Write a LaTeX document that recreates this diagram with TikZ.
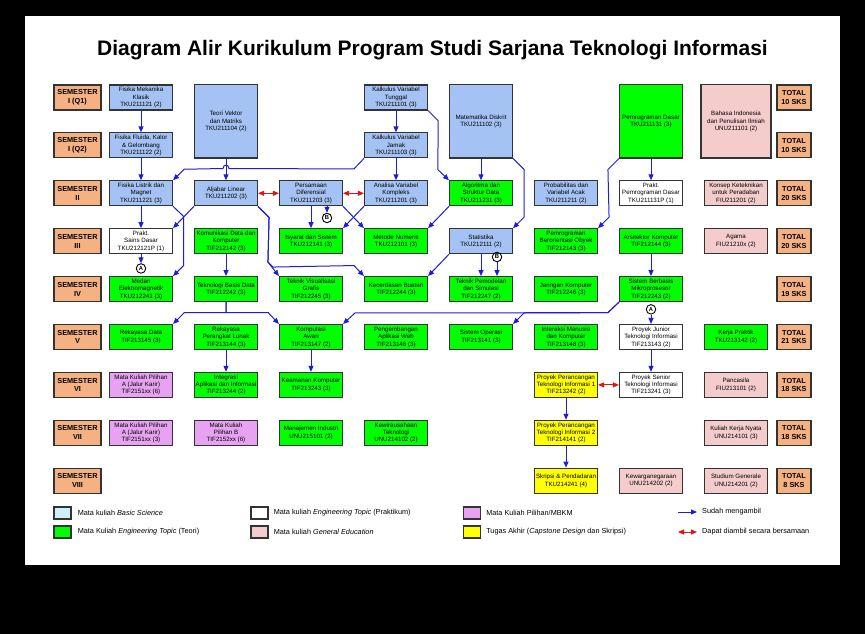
\documentclass[tikz,border=0pt]{standalone}
\usepackage{fontspec}
\setmainfont{Liberation Sans}
\usetikzlibrary{positioning, arrows.meta, calc}
\definecolor{kurblue}{HTML}{A4C2F4}
\definecolor{kurcyan}{HTML}{D0EEF6}
\definecolor{kurgreen}{HTML}{00FF00}
\definecolor{kurpink}{HTML}{F4CCCC}
\definecolor{kurviolet}{HTML}{E8A2F2}
\definecolor{kuryellow}{HTML}{FFFF00}
\definecolor{kurorange}{HTML}{F6B183}
\definecolor{kurborder}{HTML}{333333}
\definecolor{arrblue}{HTML}{1E1ED8}
\definecolor{arrred}{HTML}{E31414}

\begin{document}
\begin{tikzpicture}[
    x=1pt, y=-1pt,
    node distance=21.8pt and 22pt,
    course/.style={
        rectangle, draw=kurborder, line width=1.1pt, minimum width=63pt,
        minimum height=25pt, inner sep=1pt, align=center,
        font=\fontsize{6.2}{7.4}\selectfont
    },
    basic/.style={course, fill=kurblue},
    teori/.style={course, fill=kurgreen},
    prakt/.style={course, fill=white},
    umum/.style={course, fill=kurpink},
    pilihan/.style={course, fill=kurviolet},
    akhir/.style={course, fill=kuryellow},
    tall/.style={minimum height=73pt},
    semester/.style={
        rectangle, draw=kurborder, line width=1.1pt, fill=kurorange,
        minimum width=47pt, minimum height=25pt, inner sep=1pt, align=center,
        font=\fontsize{7.3}{8.8}\selectfont\bfseries
    },
    total/.style={semester, minimum width=34pt},
    marker/.style={circle, draw=black, line width=0.9pt, inner sep=0pt,
        minimum size=9.5pt, font=\fontsize{5.8}{6}\selectfont\bfseries},
    arr/.style={-{Triangle[length=6pt, width=5pt]}, line width=1pt, color=arrblue},
    both/.style={{Triangle[length=6pt, width=5pt]}-{Triangle[length=6pt, width=5pt]},
        line width=1pt, color=arrred},
    legbox/.style={rectangle, draw=kurborder, line width=1.1pt, minimum width=17pt,
        minimum height=12pt, inner sep=0pt},
    legtext/.style={anchor=west, inner sep=0pt, font=\fontsize{7.3}{8.8}\selectfont},
]

% Page
\fill[black] (0,0) rectangle (865,634);
\fill[white] (25,16) rectangle (840,565);
\useasboundingbox (0,0) rectangle (865,634);

\node[font=\fontsize{21}{25}\selectfont\bfseries] (title) at (432.5,50)
    {Diagram Alir Kurikulum Program Studi Sarjana Teknologi Informasi};

% Columns
\coordinate (c1) at (141,0);
\coordinate (c2) at (226,0);
\coordinate (c3) at (311,0);
\coordinate (c4) at (396,0);
\coordinate (c5) at (481,0);
\coordinate (c6) at (566,0);
\coordinate (c7) at (651,0);
\coordinate (c8) at (736,0);
\coordinate (ct) at (794,0);

% Semesters (left column)
\node[semester] (sem1a) at (77.5,97.5) {SEMESTER\\I (Q1)};
\node[semester, below=of sem1a] (sem1b) {SEMESTER\\I (Q2)};
\node[semester, below=of sem1b] (sem2) {SEMESTER\\II};
\node[semester, below=of sem2] (sem3) {SEMESTER\\III};
\node[semester, below=of sem3] (sem4) {SEMESTER\\IV};
\node[semester, below=of sem4] (sem5) {SEMESTER\\V};
\node[semester, below=of sem5] (sem6) {SEMESTER\\VI};
\node[semester, below=of sem6] (sem7) {SEMESTER\\VII};
\node[semester, below=of sem7] (sem8) {SEMESTER\\VIII};

% Totals (right column)
\node[total] (tot1a) at (ct |- sem1a) {TOTAL\\10 SKS};
\node[total] (tot1b) at (ct |- sem1b) {TOTAL\\10 SKS};
\node[total] (tot2) at (ct |- sem2) {TOTAL\\20 SKS};
\node[total] (tot3) at (ct |- sem3) {TOTAL\\20 SKS};
\node[total] (tot4) at (ct |- sem4) {TOTAL\\19 SKS};
\node[total] (tot5) at (ct |- sem5) {TOTAL\\21 SKS};
\node[total] (tot6) at (ct |- sem6) {TOTAL\\18 SKS};
\node[total] (tot7) at (ct |- sem7) {TOTAL\\18 SKS};
\node[total] (tot8) at (ct |- sem8) {TOTAL\\8 SKS};

% Semester I
\node[basic] (fmk) at (c1 |- sem1a) {Fisika Mekanika\\Klasik\\TKU211121 (2)};
\node[basic] (ffk) at (c1 |- sem1b) {Fisika Fluida, Kalor\\\& Gelombang\\TKU211122 (2)};
\node[basic, tall] (tvm) at ($(c2 |- sem1a)!0.5!(c2 |- sem1b)$) {Teori Vektor\\dan Matriks\\TKU211104 (2)};
\node[basic] (kvt) at (c4 |- sem1a) {Kalkulus Variabel\\Tunggal\\TKU211101 (3)};
\node[basic] (kvj) at (c4 |- sem1b) {Kalkulus Variabel\\Jamak\\TKU211103 (3)};
\node[basic, tall] (mdk) at ($(c5 |- sem1a)!0.5!(c5 |- sem1b)$) {Matematika Diskrit\\TKU211102 (3)};
\node[teori, tall] (pgd) at ($(c7 |- sem1a)!0.5!(c7 |- sem1b)$) {Pemrograman Dasar\\TKU211131 (3)};
\node[umum, tall, minimum width=70pt] (bip) at ($(c8 |- sem1a)!0.5!(c8 |- sem1b)$) {Bahasa Indonesia\\dan Penulisan Ilmiah\\UNU211101 (2)};

% Semester II
\node[basic] (flm) at (c1 |- sem2) {Fisika Listrik dan\\Magnet\\TKU211221 (3)};
\node[basic] (alj) at (c2 |- sem2) {Aljabar Linear\\TKU211202 (3)};
\node[basic] (pdf) at (c3 |- sem2) {Persamaan\\Diferensial\\TKU211203 (3)};
\node[basic] (avk) at (c4 |- sem2) {Analisa Variabel\\Kompleks\\TKU211201 (3)};
\node[teori] (asd) at (c5 |- sem2) {Algoritma dan\\Struktur Data\\TKU211231 (3)};
\node[basic] (pva) at (c6 |- sem2) {Probabilitas dan\\Variabel Acak\\TKU211211 (2)};
\node[prakt] (ppd) at (c7 |- sem2) {Prakt.\\Pemrograman Dasar\\TKU211131P (1)};
\node[umum] (kkp) at (c8 |- sem2) {Konsep Keteknikan\\untuk Peradaban\\FIU211201 (2)};

% Semester III
\node[prakt] (psd) at (c1 |- sem3) {Prakt.\\Sains Dasar\\TKU212121P (1)};
\node[teori] (kdk) at (c2 |- sem3) {Komunikasi Data dan\\Komputer\\TIF212142 (3)};
\node[teori] (isy) at (c3 |- sem3) {Isyarat dan Sistem\\TKU212141 (3)};
\node[teori] (mnu) at (c4 |- sem3) {Metode Numeris\\TKU212101 (3)};
\node[basic] (sta) at (c5 |- sem3) {Statistika\\TKU212111 (2)};
\node[teori] (pbo) at (c6 |- sem3) {Pemrograman\\Berorientasi Obyek\\TIF212143 (3)};
\node[teori] (ark) at (c7 |- sem3) {Arsitektur Komputer\\TIF212144 (3)};
\node[umum] (agm) at (c8 |- sem3) {Agama\\FIU21210x (2)};

% Semester IV
\node[teori] (mel) at (c1 |- sem4) {Medan\\Elektromagnetik\\TKU212241 (3)};
\node[teori] (tbd) at (c2 |- sem4) {Teknologi Basis Data\\TIF212242 (3)};
\node[teori] (tvg) at (c3 |- sem4) {Teknik Visualisasi\\Grafis\\TIF212245 (3)};
\node[teori] (kbu) at (c4 |- sem4) {Kecerdasan Buatan\\TIF212244 (3)};
\node[teori] (tps) at (c5 |- sem4) {Teknik Pemodelan\\dan Simulasi\\TIF212247 (2)};
\node[teori] (jkm) at (c6 |- sem4) {Jaringan Komputer\\TIF212246 (3)};
\node[teori] (sbm) at (c7 |- sem4) {Sistem Berbasis\\Mikroprosesor\\TIF212243 (2)};

% Semester V
\node[teori] (rda) at (c1 |- sem5) {Rekayasa Data\\TIF213145 (3)};
\node[teori] (rpl) at (c2 |- sem5) {Rekayasa\\Perangkat Lunak\\TIF213144 (3)};
\node[teori] (kaw) at (c3 |- sem5) {Komputasi\\Awan\\TIF213147 (2)};
\node[teori] (paw) at (c4 |- sem5) {Pengembangan\\Aplikasi Web\\TIF213146 (3)};
\node[teori] (sop) at (c5 |- sem5) {Sistem Operasi\\TIF213141 (3)};
\node[teori] (imk) at (c6 |- sem5) {Interaksi Manusia\\dan Komputer\\TIF213148 (3)};
\node[prakt] (pjr) at (c7 |- sem5) {Proyek Junior\\Teknologi Informasi\\TIF213143 (2)};
\node[teori] (kpr) at (c8 |- sem5) {Kerja Praktik\\TKU213142 (2)};

% Semester VI
\node[pilihan] (mpa6) at (c1 |- sem6) {Mata Kuliah Pilihan\\A (Jalur Karir)\\TIF2151xx (6)};
\node[teori] (iai) at (c2 |- sem6) {Integrasi\\Aplikasi dan Informasi\\TIF213244 (2)};
\node[teori] (kkm) at (c3 |- sem6) {Keamanan Komputer\\TIF213243 (3)};
\node[akhir] (ppt1) at (c6 |- sem6) {Proyek Perancangan\\Teknologi Informasi 1\\TIF213242 (2)};
\node[prakt] (pse) at (c7 |- sem6) {Proyek Senior\\Teknologi Informasi\\TIF213241 (3)};
\node[umum] (pnc) at (c8 |- sem6) {Pancasila\\FIU213101 (2)};

% Semester VII
\node[pilihan] (mpa7) at (c1 |- sem7) {Mata Kuliah Pilihan\\A (Jalur Karir)\\TIF2151xx (3)};
\node[pilihan] (mpb) at (c2 |- sem7) {Mata Kuliah\\Pilihan B\\TIF2152xx (6)};
\node[teori] (mji) at (c3 |- sem7) {Manajemen Industri\\UNU215101 (2)};
\node[teori] (kwt) at (c4 |- sem7) {Kewirausahaan\\Teknologi\\UNU214102 (2)};
\node[akhir] (ppt2) at (c6 |- sem7) {Proyek Perancangan\\Teknologi Informasi 2\\TIF214141 (2)};
\node[umum] (kkn) at (c8 |- sem7) {Kuliah Kerja Nyata\\UNU214101 (3)};

% Semester VIII
\node[akhir] (skr) at (c6 |- sem8) {Skripsi \& Pendadaran\\TKU214241 (4)};
\node[umum] (kwn) at (c7 |- sem8) {Kewarganegaraan\\UNU214202 (2)};
\node[umum] (stg) at (c8 |- sem8) {Studium Generale\\UNU214201 (2)};

% Connector markers
\node[marker, below=9pt of psd] (mA1) {A};
\node[marker] (mB1) at (327,218) {B};
\node[marker] (mB2) at (497,257) {B};
\node[marker, below=2pt of sbm] (mA2) {A};

% ── Arrows ──
\draw[arr] (fmk.south) -- (ffk.north);
\draw[arr] (ffk.south) -- (flm.north);
\draw[arr] (tvm.south) -- (alj.north);
\coordinate (hop1) at ($(tvm.south)+(0,10)$);
\draw[arr] (kvj.south west) -- ++(-10,10.5) -- ($(hop1)+(3,0)$)
    .. controls ($(hop1)+(3,-4.5)$) and ($(hop1)+(-3,-4.5)$) .. ($(hop1)+(-3,0)$)
    -- ($(flm.north east)+(11,-11)$) -- (flm.north east);
\draw[arr] (kvt.south) -- (kvj.north);
\draw[arr] (kvt.south east) -- ++(10,10) -- ($(asd.north west)+(-11,-10.5)$) -- (asd.north west);
\draw[arr] (mdk.south) -- (asd.north);
\draw[arr] (mdk.south east) -- ++(11,11) -- ($(sta.north east)+(11,-11)$) -- (sta.north east);
\draw[arr] (pgd.south) -- (ppd.north);
\draw[arr] (pgd.south west) -- ++(-11,11) -- ($(pbo.north east)+(11,-11)$) -- (pbo.north east);
\draw[arr] (kvj.south) -- (avk.north);

\draw[both] (alj.east) -- (pdf.west);
\draw[both] (pdf.east) -- (avk.west);

\draw[arr] (flm.south) -- (psd.north);
\draw[arr] (flm.south east) -- ++(10.5,10) -- ($(mel.north east)+(10.5,-10.5)$) -- (mel.north east);
\draw[arr] (alj.south west) -- (psd.north east);
\draw[arr] (alj.south east) -- ++(11,11) -- ($(tvg.north west)+(-11,-14)$) -- (tvg.north west);
\draw[arr] (alj.south east) -- ++(11,11) -- ($(tvg.north west)+(-11,-14)$) -- ++(5,5)
    -- ($(kbu.north west)+(-10,-10.5)$) -- (kbu.north west);
\draw[arr] (pdf.south) -- (isy.north);
\draw[arr] (pdf.south -| mB1) -- (mB1.north);
\draw[arr] (pdf.south east) -- (mnu.north west);
\draw[arr] (avk.south west) -- (isy.north east);
\draw[arr] (asd.south west) -- (mnu.north east);

\draw[arr] (mA1.north |- psd.south) -- (mA1.north);
\draw[arr] (kdk.south) -- (tbd.north);
\draw[arr] (sta.south west) -- (kbu.north east);
\draw[arr] (sta.south) -- (tps.north);
\draw[arr] (mB2.south) -- (mB2.south |- tps.north);
\draw[arr] (ark.south) -- (sbm.north);

\draw[arr] (tbd.south) -- ++(0,10.5) -| ($(rda.north east)+(11,-11)$) -- (rda.north east);
\draw[arr] (tbd.south) -- ++(0,10.5) -| ($(kaw.north west)+(-10.5,-11)$) -- (kaw.north west);
\draw[arr] (sbm.south west) -- ++(-11,10.5) -- ($(sop.north east)+(11,-11)$) -- (sop.north east);
\draw[arr] (sbm.south west) -- ++(-11,10.5) -- ($(kaw.north east)+(12,-11)$) -- (kaw.north east);
\draw[arr] (mA2.south) -- (pjr.north);

\draw[arr] (rpl.south) -- (iai.north);
\draw[arr] (kaw.south) -- (kkm.north);
\draw[arr] (pjr.south) -- (pse.north);
\draw[both] (ppt1.east) -- (pse.west);
\draw[arr] (ppt1.south) -- (ppt2.north);
\draw[arr] (ppt2.south) -- (skr.north);

% Legend
\node[legbox, fill=kurcyan] (lg1) at (62.5,513) {};
\node[legtext, right=6pt of lg1] (lt1) {Mata kuliah \textit{Basic Science}};
\node[legbox, fill=kurgreen] (lg2) at (62.5,532) {};
\node[legtext, right=6pt of lg2] (lt2) {Mata Kuliah \textit{Engineering Topic} (Teori)};
\node[legbox, fill=white] (lg3) at (259.5,513) {};
\node[legtext, right=5pt of lg3] (lt3) {Mata kuliah \textit{Engineering Topic} (Praktikum)};
\node[legbox, fill=kurpink] (lg4) at (259.5,532) {};
\node[legtext, right=5pt of lg4] (lt4) {Mata kuliah \textit{General Education}};
\node[legbox, fill=kurviolet] (lg5) at (472,513) {};
\node[legtext, right=5pt of lg5] (lt5) {Mata Kuliah Pilihan/MBKM};
\node[legbox, fill=kuryellow] (lg6) at (472,532) {};
\node[legtext, right=5pt of lg6] (lt6) {Tugas Akhir (\textit{Capstone Design} dan Skripsi)};
\coordinate (la1) at (678,512);
\coordinate (lb1) at (697,512);
\draw[arr] (la1) -- (lb1);
\node[legtext] (lt7) at (702,512) {Sudah mengambil};
\coordinate (la2) at (678,532);
\coordinate (lb2) at (697,532);
\draw[both] (la2) -- (lb2);
\node[legtext] (lt8) at (702,532) {Dapat diambil secara bersamaan};

\end{tikzpicture}
\end{document}
